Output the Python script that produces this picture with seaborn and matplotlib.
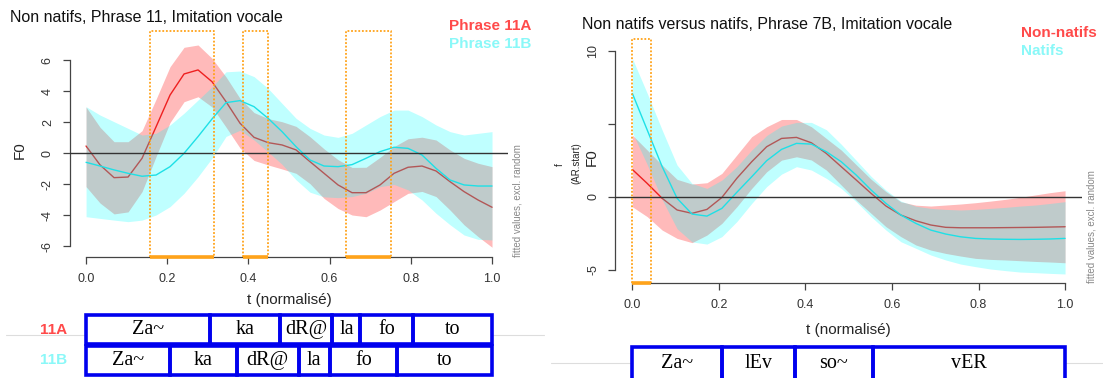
import numpy as np
import matplotlib.pyplot as plt
import seaborn as sns
from matplotlib.patches import Rectangle
from matplotlib.lines import Line2D

# grid of the smooths (30 points, as in plot_smooth)
t = np.linspace(0, 1, 30)

# left panel: Phrase 11A (red) / 11B (cyan)
fit_11a = [0.48, -0.74, -1.56, -1.52, -0.31, 1.72, 3.77, 5.13, 5.39, 4.63,
           3.34, 1.95, 1.04, 0.70, 0.55, 0.23, -0.53, -1.28, -2.03, -2.53,
           -2.53, -2.03, -1.28, -0.89, -0.81, -1.13, -1.82, -2.46, -3.00, -3.47]
up_11a = [3.00, 1.69, 0.76, 0.76, 1.47, 3.50, 5.60, 6.85, 7.00, 6.14,
          4.94, 3.55, 2.64, 2.25, 2.05, 1.75, 1.08, 0.30, -0.40, -0.90,
          -0.89, -0.25, 0.44, 0.95, 1.05, 0.87, 0.23, -0.31, -0.63, -0.85]
lo_11a = [-2.14, -3.20, -3.90, -3.77, -2.46, -0.20, 2.00, 3.34, 3.66, 3.00,
          1.70, 0.35, -0.45, -0.74, -1.00, -1.28, -1.95, -2.90, -3.55, -3.97,
          -4.08, -3.65, -3.11, -2.57, -2.45, -2.78, -3.65, -4.60, -5.36, -6.05]
fit_11b = [-0.57, -0.81, -1.06, -1.28, -1.47, -1.39, -0.85, 0.01, 1.09, 2.23,
           3.28, 3.41, 3.02, 2.27, 1.41, 0.44, -0.42, -0.81, -0.85, -0.72,
           -0.31, 0.12, 0.40, 0.33, -0.10, -0.96, -1.71, -2.03, -2.10, -2.10]
up_11b = [3.02, 2.48, 2.05, 1.62, 1.19, 1.30, 1.84, 2.60, 3.45, 4.30,
          5.27, 5.32, 4.96, 4.20, 3.23, 2.27, 1.62, 1.19, 1.04, 1.30,
          1.84, 2.38, 2.80, 2.80, 2.38, 1.84, 1.41, 1.19, 1.30, 1.41]
lo_11b = [-4.08, -4.19, -4.30, -4.40, -4.30, -3.97, -3.43, -2.57, -1.50, -0.30,
          1.10, 1.50, 0.87, 0.10, -0.70, -1.70, -2.50, -2.80, -2.85, -2.78,
          -2.57, -2.14, -2.00, -2.35, -3.00, -3.86, -4.60, -5.26, -5.54, -5.58]

# right panel: Non-natifs (red) / Natifs (cyan)
fit_nn = [1.87, 0.91, -0.11, -0.91, -1.14, -0.87, -0.05, 1.26, 2.40, 3.43,
          4.00, 4.07, 3.70, 2.97, 2.06, 1.15, 0.23, -0.64, -1.26, -1.65,
          -1.94, -2.10, -2.13, -2.13, -2.13, -2.12, -2.11, -2.10, -2.08, -2.06]
up_nn = [4.23, 3.20, 2.17, 1.19, 0.87, 0.96, 1.60, 2.86, 4.12, 4.80,
         5.30, 5.30, 4.80, 4.00, 3.20, 2.20, 1.20, 0.35, -0.35, -0.58,
         -0.64, -0.57, -0.50, -0.41, -0.30, -0.18, -0.04, 0.12, 0.28, 0.41]
lo_nn = [-0.69, -1.37, -2.29, -2.86, -3.15, -2.63, -1.83, -0.69, 0.57, 1.71,
         2.51, 2.74, 2.52, 1.83, 0.80, -0.23, -1.14, -2.06, -2.74, -3.31,
         -3.66, -3.89, -4.07, -4.23, -4.30, -4.34, -4.39, -4.44, -4.48, -4.53]
fit_nat = [7.09, 4.57, 2.06, -0.11, -1.19, -1.33, -0.80, 0.30, 1.37, 2.47,
           3.25, 3.66, 3.61, 3.09, 2.40, 1.49, 0.46, -0.46, -1.26, -1.83,
           -2.29, -2.56, -2.75, -2.86, -2.90, -2.92, -2.93, -2.92, -2.90, -2.86]
up_nat = [9.49, 7.09, 4.57, 2.17, 0.91, 0.57, 1.14, 2.06, 3.20, 4.20,
          4.85, 5.10, 5.10, 4.60, 3.60, 2.50, 1.40, 0.45, -0.30, -0.65,
          -0.80, -0.87, -0.91, -0.87, -0.80, -0.73, -0.64, -0.57, -0.46, -0.34]
lo_nat = [4.40, 2.20, -0.20, -2.20, -3.10, -3.25, -2.74, -1.71, -0.46, 0.69,
          1.55, 2.06, 1.83, 1.26, 0.57, -0.34, -1.37, -2.29, -3.09, -3.54,
          -4.00, -4.34, -4.62, -4.80, -4.96, -5.07, -5.17, -5.21, -5.26, -5.30]

# highlighted windows (orange)
boxes_11 = [(0.158, 0.314), (0.386, 0.447), (0.640, 0.750)]
boxes_7b = [(0.0, 0.043)]

# syllable segmentation
seg_11a = [0, 0.305, 0.478, 0.607, 0.676, 0.806, 1.0]
seg_11b = [0, 0.207, 0.371, 0.524, 0.600, 0.766, 1.0]
syl_11 = ["Za~", "ka", "dR@", "la", "fo", "to"]
seg_7b = [0, 0.207, 0.375, 0.556, 1.0]
syl_7b = ["Za~", "lEv", "so~", "vER"]

xticks = [0.0, 0.2, 0.4, 0.6, 0.8, 1.0]

sns.set_style("ticks")
plt.rcParams['font.family'] = ['Liberation Sans', 'DejaVu Sans']

RED_BAND = (1, 0, 0, 0.27)
CYAN_BAND = (0, 1, 1, 0.25)
ORANGE = '#ffa31a'
BLUE = '#0000ee'
AXC = '#444444'


def smooth_panel(ax, fa, la, ua, fb, lb, ub, ylim, yticks, ylabels, boxes):
    # draw order as in R: red band, red line, cyan band (over the red line), cyan line
    ax.fill_between(t, la, ua, color=RED_BAND, lw=0, zorder=1)
    sns.lineplot(x=t, y=fa, color='#ee2020', lw=1, ax=ax, zorder=1.5)
    ax.fill_between(t, lb, ub, color=CYAN_BAND, lw=0, zorder=2)
    sns.lineplot(x=t, y=fb, color='#1ee0e6', lw=1, ax=ax, zorder=2.5)
    ax.axhline(0, color='#333333', lw=1, zorder=3)
    ax.set_xlim(-0.04, 1.04)
    ax.set_ylim(*ylim)
    for a, b in boxes:
        ax.plot([a, a, b, b], [ylim[0], ylim[1], ylim[1], ylim[0]], color=ORANGE,
                ls=(0, (1, 1)), lw=1.3, clip_on=False, zorder=5)
        ax.plot([a, b], [ylim[0], ylim[0]], color=ORANGE, lw=2.6,
                solid_capstyle='butt', clip_on=False, zorder=6)
    sns.despine(ax=ax)
    ax.spines['left'].set_bounds(yticks[0], yticks[-1])
    ax.spines['bottom'].set_bounds(0, 1)
    for s in ['left', 'bottom']:
        ax.spines[s].set_color(AXC)
        ax.spines[s].set_linewidth(0.9)
    ax.set_xticks(xticks)
    ax.set_xticklabels([f"{v:.1f}" for v in xticks])
    ax.set_yticks(yticks)
    ax.set_yticklabels(ylabels, rotation=90, va='center')
    ax.tick_params(direction='out', length=5, width=0.9, color=AXC,
                   labelsize=9, labelcolor='#333333', pad=6.5)
    ax.set_xlabel("")
    ax.set_ylabel("")
    ax.text(1.02, 0, "fitted values, excl. random", transform=ax.transAxes,
            rotation=90, ha='center', va='bottom', fontsize=7, color='#888888')


def seg_row(ax, bounds, labels, y0, h, ty):
    for a, b in zip(bounds[:-1], bounds[1:]):
        ax.add_patch(Rectangle((a, y0), b - a, h, facecolor='white', lw=0, clip_on=False))
    for a, b, lab in zip(bounds[:-1], bounds[1:], labels):
        ax.add_patch(Rectangle((a, y0), b - a, h, facecolor='none', edgecolor=BLUE,
                               lw=2.6, clip_on=False))
        ax.text((a + b) / 2, ty, lab, ha='center', va='center', fontsize=14.5,
                family='Liberation Serif', color='black')


fig = plt.figure(figsize=(11.03, 3.78), dpi=100)

# left smooth
axl = fig.add_axes([0.0633, 0.3209, 0.3975, 0.597])
smooth_panel(axl, fit_11a, lo_11a, up_11a, fit_11b, lo_11b, up_11b,
             (-6.66, 7.9), [-6, -4, -2, 0, 2, 4, 6],
             ["-6", "-4", "-2", "0", "2", "4", "6"], boxes_11)
axl.text(-0.1136, 0.473, "F0", transform=axl.transAxes, rotation=90,
         ha='center', va='center', fontsize=11)
axl.text(0.5, -0.192, "t (normalisé)", transform=axl.transAxes,
         ha='center', va='center', fontsize=11)

# right smooth
axr = fig.add_axes([0.5576, 0.2513, 0.4237, 0.6447])
smooth_panel(axr, fit_nn, lo_nn, up_nn, fit_nat, lo_nat, up_nat,
             (-5.92, 10.8), [-5, 0, 5, 10], ["-5", "0", "", "10"], boxes_7b)
axr.text(-0.1177, 0.484, "f", transform=axr.transAxes, rotation=90,
         ha='center', va='center', fontsize=7)
axr.text(-0.0819, 0.491, "(AR.start)", transform=axr.transAxes, rotation=90,
         ha='center', va='center', fontsize=7)
axr.text(-0.0498, 0.516, "F0", transform=axr.transAxes, rotation=90,
         ha='center', va='center', fontsize=11)
axr.text(0.5, -0.193, "t (normalisé)", transform=axr.transAxes,
         ha='center', va='center', fontsize=11)

# titles and legends
fig.text(0.0091, 0.955, "Non natifs, Phrase 11, Imitation vocale", fontsize=11.5,
         ha='left', va='center', color='#111111')
fig.text(0.5277, 0.935, "Non natifs versus natifs, Phrase 7B, Imitation vocale",
         fontsize=11.5, ha='left', va='center', color='#111111')
fig.text(0.407, 0.9325, "Phrase 11A", color='#ff4a4a', fontsize=11,
         fontweight='bold', ha='left', va='center')
fig.text(0.407, 0.8836, "Phrase 11B", color='#8af8f8', fontsize=11,
         fontweight='bold', ha='left', va='center')
fig.text(0.9257, 0.9114, "Non-natifs", color='#ff4a4a', fontsize=11,
         fontweight='bold', ha='left', va='center')
fig.text(0.9257, 0.865, "Natifs", color='#8af8f8', fontsize=11,
         fontweight='bold', ha='left', va='center')

# separator lines behind the segmentation tables
fig.add_artist(Line2D([0.005, 0.493], [0.1138, 0.1138], color='#dddddd', lw=0.8, zorder=-1))
fig.add_artist(Line2D([0.4995, 1.0], [0.0397, 0.0397], color='#dddddd', lw=0.8, zorder=-1))

# segmentation tables
axs1 = fig.add_axes([0.0633, 0.00265, 0.3975, 0.1693])
axs1.set_xlim(-0.04, 1.04)
axs1.set_ylim(-0.05, 2.05)
axs1.axis('off')
seg_row(axs1, seg_11a, syl_11, 1.03, 0.94, 1.50)
seg_row(axs1, seg_11b, syl_11, 0.03, 0.94, 0.50)
fig.text(0.049, 0.128, "11A", color='#ff4a4a', fontsize=11, fontweight='bold',
         ha='center', va='center')
fig.text(0.049, 0.0463, "11B", color='#8af8f8', fontsize=11, fontweight='bold',
         ha='center', va='center')

axs2 = fig.add_axes([0.5576, 0.0, 0.4237, 0.0873])
axs2.set_xlim(-0.04, 1.04)
axs2.set_ylim(0, 1)
axs2.axis('off')
seg_row(axs2, seg_7b, syl_7b, -0.3, 1.24, 0.45)

fig.savefig("out.png", dpi=100)
